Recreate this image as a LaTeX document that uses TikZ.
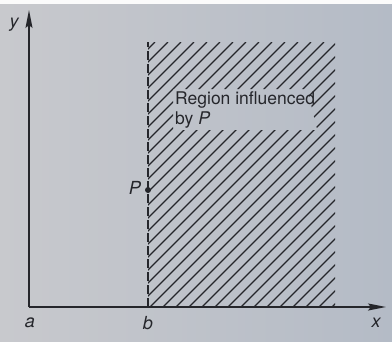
\documentclass[tikz,border=0pt]{standalone}
\usepackage{fontspec}
\setmainfont{TeX Gyre Heros}
\usetikzlibrary{arrows.meta}
\definecolor{bgL}{HTML}{C8C9CD}
\definecolor{bgR}{HTML}{B4BBC6}
\definecolor{ink}{HTML}{25262B}
\tikzset{
  axis/.style={line width=1.4pt, draw=ink, -{Stealth[length=18pt,width=7pt,inset=3pt]}},
  hatchline/.style={line width=1.3pt, draw=ink},
  boundary/.style={line width=2pt, draw=ink, dash pattern=on 9pt off 4pt},
  lbl/.style={font=\fontsize{18}{20}\selectfont\itshape, text=ink, inner sep=0pt},
  region/.style={font=\fontsize{17.5}{20}\selectfont, text=ink, inner sep=2pt, align=left}
}
\begin{document}
\begin{tikzpicture}[x=1pt,y=-1pt]
\useasboundingbox (0,0) rectangle (392,341);
\shade[left color=bgL, right color=bgR] (0,0) rectangle (392,341);
\fill[white!92!bgL] (0,0) rectangle (392,4);
\node[region, anchor=north west] (reg) at (173,89) {Region influenced\\by \textit{P}};
% hatching
\begin{scope}[even odd rule]
  \clip (148,42) rectangle (335,307)
     (reg.south west) -- (reg.south west -| reg.north east) -- ([xshift=-10pt]reg.north east) -- (reg.north west) -- cycle;
  \foreach \k in {-21,...,15} {
    \draw[hatchline] ({150+\k*13},307) -- ({150+\k*13+265},42);
  }
\end{scope}
% axes
\coordinate (O) at (29,307);
\coordinate (ytip) at (29,10);
\coordinate (xtip) at (386,307);
\draw[axis] (O) -- (ytip);
\draw[axis] (O) -- (xtip);
% boundary
\coordinate (btop) at (148,42);
\coordinate (bbot) at (148,307);
\draw[boundary] (bbot) -- (btop);
\node[circle, fill=ink, inner sep=0pt, minimum size=6pt] (P) at (148,190) {};
% labels
\node[lbl] (ylab) at (14,25) {y};
\node[lbl] (plab) at (135,188) {P};
\node[lbl] (alab) at (30,323) {a};
\node[lbl] (blab) at (148,323) {b};
\node[lbl] (xlab) at (376,323) {x};
\end{tikzpicture}
\end{document}
